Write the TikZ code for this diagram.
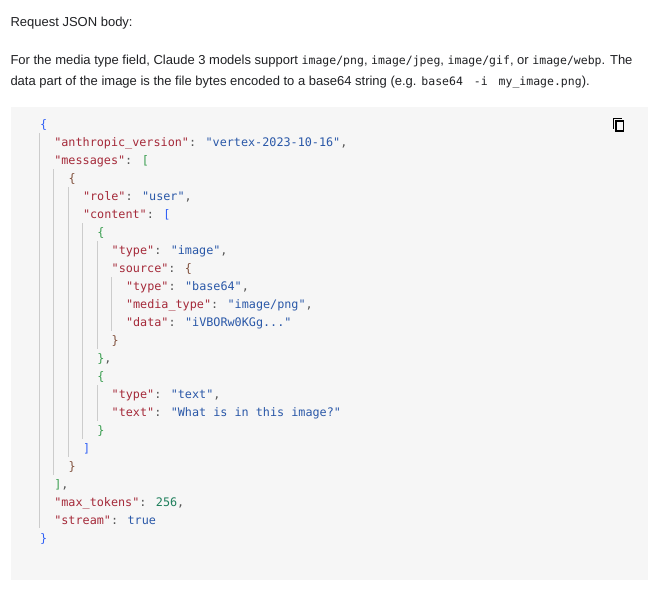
\documentclass[tikz,border=0pt]{standalone}
\usepackage{fontspec}
\setmainfont[FakeStretch=1.0]{Liberation Sans}
\newfontfamily\codefont{DejaVu Sans Mono}
\definecolor{keyc}{HTML}{A52A3A}
\definecolor{strc}{HTML}{2A58A8}
\definecolor{punc}{HTML}{555555}
\definecolor{bra}{HTML}{3060F5}
\definecolor{brg}{HTML}{3A9E50}
\definecolor{brb}{HTML}{80503C}
\definecolor{numc}{HTML}{1F7F5C}
\definecolor{guidec}{HTML}{CCCCCC}
\definecolor{panel}{HTML}{F6F6F6}
\definecolor{bodyc}{HTML}{202124}
\newcommand{\K}[1]{\textcolor{keyc}{#1}}
\newcommand{\St}[1]{\textcolor{strc}{#1}}
\newcommand{\Pn}[1]{\textcolor{punc}{#1}}
\newcommand{\BA}[1]{\textcolor{bra}{#1}}
\newcommand{\BG}[1]{\textcolor{brg}{#1}}
\newcommand{\BB}[1]{\textcolor{brb}{#1}}
\newcommand{\Nm}[1]{\textcolor{numc}{#1}}
\newcommand{\BM}[1]{{\fontsize{11.5pt}{12pt}\codefont #1}}
\tikzset{
  codeline/.style={anchor=base west,inner sep=0pt,outer sep=0pt,font=\fontsize{11.78pt}{14pt}\codefont},
  bodyline/.style={anchor=base west,inner sep=0pt,outer sep=0pt,text=bodyc,font=\fontsize{13pt}{15pt}\selectfont},
  guide/.style={draw=guidec,line width=0.9pt},
  iconline/.style={draw=black,line width=1.5pt}
}
\begin{document}
\begin{tikzpicture}[x=1pt,y=-1pt]
\useasboundingbox (0,0) rectangle (661,589);
\fill[white] (0,0) rectangle (661,589);
\fill[panel] (11,107) rectangle (648,580);
\node[bodyline] (intro) at (10.5,27) {Request JSON body:};
\node[bodyline] (parA) at (10.5,64) {For the media type field, Claude 3 models support \BM{image/png}, \BM{image/jpeg}, \BM{image/gif}, or \BM{image/webp}. The};
\node[bodyline] (parB) at (10.5,85.5) {data part of the image is the file bytes encoded to a base64 string (e.g. \BM{base64\hspace{4pt} -i\hspace{4pt} my\_image.png}).};
% indent guides
\draw[guide] (39.5,133) -- (39.5,528);
\draw[guide] (53.5,169) -- (53.5,475);
\draw[guide] (68.3,187) -- (68.3,457);
\draw[guide] (82.3,223) -- (82.3,439);
\draw[guide] (97.3,241) -- (97.3,349);
\draw[guide] (111.3,277) -- (111.3,331);
\draw[guide] (97.3,385) -- (97.3,421);
% code
\node[codeline] (c1) at (40,128.5) {\BA{\{}};
\node[codeline] (c2) at (54.3,146.5) {\K{"anthropic\_version"}\Pn{:} \St{"vertex-2023-10-16"}\Pn{,}};
\node[codeline] (c3) at (54.3,164.5) {\K{"messages"}\Pn{:} \BG{[}};
\node[codeline] (c4) at (68.7,182.5) {\BB{\{}};
\node[codeline] (c5) at (83,200.5) {\K{"role"}\Pn{:} \St{"user"}\Pn{,}};
\node[codeline] (c6) at (83,218.5) {\K{"content"}\Pn{:} \BA{[}};
\node[codeline] (c7) at (97.4,236.5) {\BG{\{}};
\node[codeline] (c8) at (111.7,254.5) {\K{"type"}\Pn{:} \St{"image"}\Pn{,}};
\node[codeline] (c9) at (111.7,272.5) {\K{"source"}\Pn{:} \BB{\{}};
\node[codeline] (c10) at (126,290.5) {\K{"type"}\Pn{:} \St{"base64"}\Pn{,}};
\node[codeline] (c11) at (126,308.5) {\K{"media\_type"}\Pn{:} \St{"image/png"}\Pn{,}};
\node[codeline] (c12) at (126,326.5) {\K{"data"}\Pn{:} \St{"iVBORw0KGg..."}};
\node[codeline] (c13) at (111.7,344.5) {\BB{\}}};
\node[codeline] (c14) at (97.4,362.5) {\BG{\}}\Pn{,}};
\node[codeline] (c15) at (97.4,380.5) {\BG{\{}};
\node[codeline] (c16) at (111.7,398.5) {\K{"type"}\Pn{:} \St{"text"}\Pn{,}};
\node[codeline] (c17) at (111.7,416.5) {\K{"text"}\Pn{:} \St{"What is in this image?"}};
\node[codeline] (c18) at (97.4,434.5) {\BG{\}}};
\node[codeline] (c19) at (83,452.5) {\BA{]}};
\node[codeline] (c20) at (68.7,470.5) {\BB{\}}};
\node[codeline] (c21) at (54.3,488.5) {\BG{]}\Pn{,}};
\node[codeline] (c22) at (54.3,506.5) {\K{"max\_tokens"}\Pn{:} \Nm{256}\Pn{,}};
\node[codeline] (c23) at (54.3,524.5) {\K{"stream"}\Pn{:} \St{true}};
\node[codeline] (c24) at (40,542.5) {\BA{\}}};
% copy icon
\draw[iconline] (613.4,128.5) -- (613.4,118.6) -- (622,118.6);
\draw[iconline] (615.8,121.2) rectangle (623.6,131.2);
\end{tikzpicture}
\end{document}
